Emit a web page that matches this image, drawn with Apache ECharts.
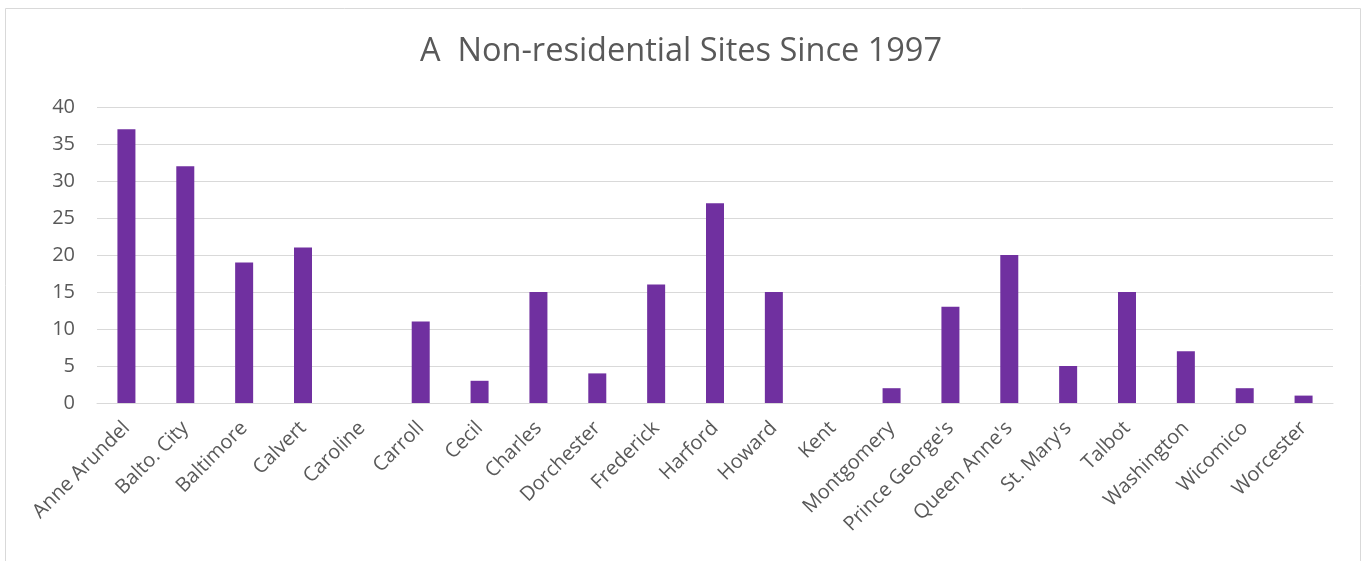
<!DOCTYPE html>
<html>
<head>
<meta charset="utf-8">
<script src="https://cdn.jsdelivr.net/npm/echarts@6/dist/echarts.min.js"></script>
<style>
  html, body { margin: 0; padding: 0; background: #fff; }
  #chart { width: 1362px; height: 561px; }
</style>
</head>
<body>
<div id="chart"></div>
<script>
var counties = ['Anne Arundel', 'Balto. City', 'Baltimore', 'Calvert', 'Caroline', 'Carroll', 'Cecil',
  'Charles', 'Dorchester', 'Frederick', 'Harford', 'Howard', 'Kent', 'Montgomery', "Prince George's",
  "Queen Anne's", "St. Mary's", 'Talbot', 'Washington', 'Wicomico', 'Worcester']
var sites = [37, 32, 19, 21, 0, 11, 3, 15, 4, 16, 27, 15, 0, 2, 13, 20, 5, 15, 7, 2, 1]

var font = 'Open Sans'
var myChart = echarts.init(document.getElementById('chart'))
myChart.setOption({
  animation: false,
  title: {
    text: 'A  Non-residential Sites Since 1997',
    left: 'center',
    top: 30,
    textStyle: { color: '#595959', fontSize: 32.5, fontWeight: 'normal', fontFamily: font },
  },
  graphic: [
    {
      type: 'rect',
      shape: { x: 5.5, y: 8.5, width: 1355, height: 560 },
      style: { fill: 'none', stroke: '#d9d9d9', lineWidth: 1 },
      silent: true,
    },
  ],
  grid: { left: 97, right: 29, top: 107, bottom: 158 },
  xAxis: {
    type: 'category',
    data: counties,
    axisLine: { lineStyle: { color: '#d9d9d9', width: 1 } },
    axisTick: { show: false },
    axisLabel: {
      interval: 0,
      rotate: 45,
      margin: 22,
      color: '#595959',
      fontSize: 20,
      fontFamily: font,
    },
  },
  yAxis: {
    type: 'value',
    min: 0,
    max: 40,
    interval: 5,
    axisLine: { show: false },
    axisTick: { show: false },
    splitLine: { lineStyle: { color: '#d9d9d9', width: 1 } },
    axisLabel: { color: '#595959', fontSize: 20, fontFamily: font, margin: 22 },
  },
  series: [
    {
      name: 'Sites',
      type: 'bar',
      data: sites,
      barWidth: 18,
      itemStyle: { color: '#7030A0' },
    },
  ],
})
</script>
</body>
</html>
